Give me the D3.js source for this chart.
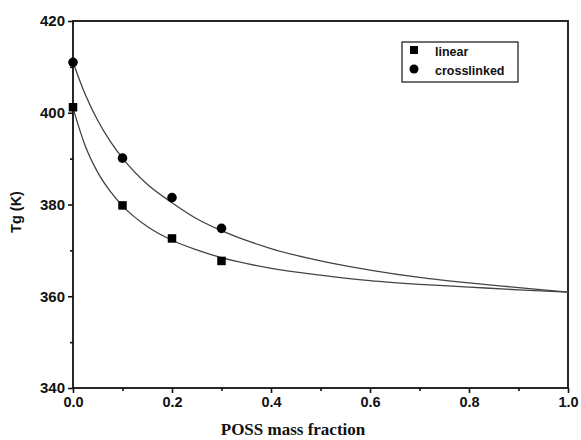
<!DOCTYPE html>
<html>
<head>
<meta charset="utf-8">
<script src="https://cdn.jsdelivr.net/npm/d3@7"></script>
<style>
  body { margin: 0; background: #fff; }
  svg { display: block; }
</style>
</head>
<body>
<div id="chart"></div>
<script>
// ------------------------------
// DATA
// ------------------------------
const xTicks = [0.0, 0.2, 0.4, 0.6, 0.8, 1.0];
const yTicks = [340, 360, 380, 400, 420];

// measured points
const linearX = [0.0, 0.1, 0.2, 0.3];
const linearTg = [401.2, 379.8, 372.6, 367.7];
const crossX = [0.0, 0.1, 0.2, 0.3];
const crossTg = [411.0, 390.1, 381.5, 374.8];

// fitted curves
const fitX = [0.0, 0.025, 0.05, 0.075, 0.1, 0.15, 0.2, 0.25, 0.3, 0.4, 0.5, 0.6, 0.7, 0.8, 0.9, 1.0];
const linearFit = [401.0, 392.7, 387.0, 382.9, 379.7, 375.2, 372.2, 370.1, 368.4, 366.1, 364.6, 363.4, 362.6, 362.0, 361.4, 360.9];
const crossFit = [411.0, 403.9, 398.3, 393.8, 390.1, 384.4, 380.4, 376.9, 374.3, 370.4, 367.7, 365.7, 364.1, 362.9, 361.9, 360.9];

// ------------------------------
// SVG SETUP
// ------------------------------
const width = 581;
const height = 440;
const margin = { top: 21, right: 13, bottom: 52, left: 73 };
const innerW = width - margin.left - margin.right;
const innerH = height - margin.top - margin.bottom;

const svg = d3.select("#chart")
  .append("svg")
  .attr("width", width)
  .attr("height", height);

const g = svg.append("g")
  .attr("transform", `translate(${margin.left},${margin.top})`);

const x = d3.scaleLinear().domain([0, 1]).range([0, innerW]);
const y = d3.scaleLinear().domain([340, 420]).range([innerH, 0]);

const tickFont = "'Liberation Sans', Arial, sans-serif";

// frame
g.append("rect")
  .attr("width", innerW)
  .attr("height", innerH)
  .attr("fill", "none")
  .attr("stroke", "#111")
  .attr("stroke-width", 1.8);

// minor ticks
const xMinor = d3.range(0.1, 1.0, 0.2);
const yMinor = [350, 370, 390, 410];

// x axis
const xAxis = g.append("g")
  .attr("transform", `translate(0,${innerH})`)
  .call(d3.axisBottom(x).tickValues(xTicks).tickFormat(d3.format(".1f")).tickSize(5).tickPadding(4));
xAxis.append("g")
  .call(d3.axisBottom(x).tickValues(xMinor).tickFormat("").tickSize(3));

// y axis
const yAxis = g.append("g")
  .call(d3.axisLeft(y).tickValues(yTicks).tickFormat(d3.format("d")).tickSize(5).tickPadding(3));
yAxis.append("g")
  .call(d3.axisLeft(y).tickValues(yMinor).tickFormat("").tickSize(3));

g.selectAll(".domain").remove();
g.selectAll(".tick line").attr("stroke", "#111").attr("stroke-width", 1.6);
xAxis.selectAll(".tick text").style("font-size", "14.5px");
yAxis.selectAll(".tick text").style("font-size", "15px");
g.selectAll(".tick text")
  .attr("fill", "#111")
  .style("font-family", tickFont)
  .style("font-weight", "bold");

// axis titles
svg.append("text")
  .attr("x", 293)
  .attr("y", 435)
  .attr("text-anchor", "middle")
  .style("font-family", "'Liberation Serif', 'Times New Roman', serif")
  .style("font-weight", "bold")
  .style("font-size", "17px")
  .attr("fill", "#111")
  .text("POSS mass fraction");

svg.append("text")
  .attr("transform", "translate(21,212) rotate(-90)")
  .attr("text-anchor", "middle")
  .style("font-family", tickFont)
  .style("font-weight", "bold")
  .style("font-size", "14.5px")
  .attr("fill", "#111")
  .text("Tg (K)");

// ------------------------------
// FIT CURVES
// ------------------------------
const line = d3.line()
  .x(d => x(d[0]))
  .y(d => y(d[1]))
  .curve(d3.curveMonotoneX);

[linearFit, crossFit].forEach(vals => {
  g.append("path")
    .datum(fitX.map((v, i) => [v, vals[i]]))
    .attr("d", line)
    .attr("fill", "none")
    .attr("stroke", "#444")
    .attr("stroke-width", 1.3);
});

// ------------------------------
// MARKERS
// ------------------------------
const sq = 8.5;
g.selectAll(".lin")
  .data(linearX.map((v, i) => [v, linearTg[i]]))
  .enter()
  .append("rect")
  .attr("x", d => x(d[0]) - sq / 2)
  .attr("y", d => y(d[1]) - sq / 2)
  .attr("width", sq)
  .attr("height", sq)
  .attr("fill", "#000");

g.selectAll(".cross")
  .data(crossX.map((v, i) => [v, crossTg[i]]))
  .enter()
  .append("circle")
  .attr("cx", d => x(d[0]))
  .attr("cy", d => y(d[1]))
  .attr("r", 4.8)
  .attr("fill", "#000");

// ------------------------------
// LEGEND
// ------------------------------
const legend = svg.append("g").attr("transform", "translate(402,42)");
legend.append("rect")
  .attr("width", 116)
  .attr("height", 40)
  .attr("fill", "#fff")
  .attr("stroke", "#111")
  .attr("stroke-width", 1.2);
legend.append("rect")
  .attr("x", 12 - 4)
  .attr("y", 8 - 4)
  .attr("width", 8)
  .attr("height", 8)
  .attr("fill", "#000");
legend.append("circle")
  .attr("cx", 12)
  .attr("cy", 27)
  .attr("r", 4.5)
  .attr("fill", "#000");
legend.selectAll(".lt")
  .data(["linear", "crosslinked"])
  .enter()
  .append("text")
  .attr("x", 33)
  .attr("y", (d, i) => 13.5 + i * 19)
  .style("font-family", tickFont)
  .style("font-weight", "bold")
  .style("font-size", "12.5px")
  .attr("fill", "#111")
  .text(d => d);
</script>
</body>
</html>
